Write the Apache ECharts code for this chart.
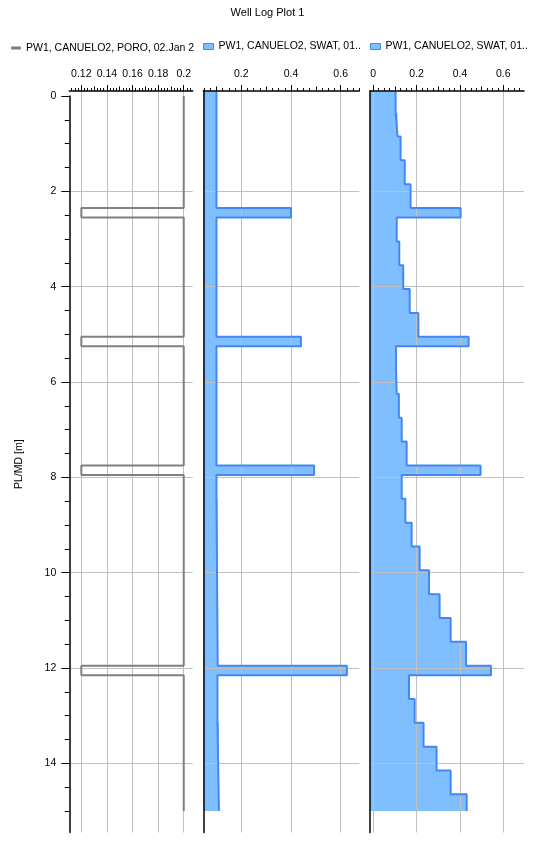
<!DOCTYPE html>
<html><head><meta charset="utf-8">
<script src="https://cdn.jsdelivr.net/npm/echarts@6/dist/echarts.min.js"></script>
<style>html,body{margin:0;padding:0;background:#fff}#c{width:535px;height:844px}</style>
</head><body><div id="c"></div>
<script>
// ---------- data (depth in m) ----------
const poroName = 'PW1, CANUELO2, PORO, 02.Jan 20';
const swatName = 'PW1, CANUELO2, SWAT, 01..';

const poroDepths = [0, 2.35, 2.55, 5.05, 5.25, 7.75, 7.95, 11.95, 12.15, 15.0];
const poroValues = [0.2, 0.12, 0.2, 0.12, 0.2, 0.12, 0.2, 0.12, 0.2];

const swat1Depths = [-0.1, 2.35, 2.55, 5.05, 5.25, 7.75, 7.95, 8.45, 11.95, 12.15, 13.15, 15.0];
const swat1Values = [0.1, 0.4, 0.1, 0.44, 0.1, 0.493, 0.1, 0.105, 0.625, 0.104, 0.11];

const swat2Depths = [-0.1, 0.35, 0.85, 1.35, 1.85, 2.35, 2.55, 3.05, 3.55, 4.05, 4.55, 5.05, 5.25, 5.75,
  6.25, 6.75, 7.25, 7.75, 7.95, 8.45, 8.95, 9.45, 9.95, 10.45, 10.95, 11.45, 11.95, 12.15, 12.65,
  13.15, 13.65, 14.15, 14.65, 15.0];
const swat2Values = [0.103, 0.112, 0.126, 0.145, 0.172, 0.403, 0.108, 0.12, 0.138, 0.168, 0.208, 0.44,
  0.105, 0.108, 0.118, 0.131, 0.154, 0.495, 0.131, 0.148, 0.177, 0.214, 0.257, 0.306, 0.357, 0.428,
  0.543, 0.165, 0.191, 0.232, 0.292, 0.357, 0.431];

// ---------- layout ----------
const FONT = 'Liberation Sans';
const Y0 = 96, PPD = 47.67, DTOP = -0.105, DBOT = 15.45;
const tracks = [
  {L: 69.3, R: 192.7, a: 0.1106, b: 0.2070, steps: [0.02, 0.01, 0.0025]},
  {L: 203.3, R: 359.3, a: 0.047, b: 0.675, steps: [0.2, 0.1, 0.025]},
  {L: 370, R: 524, a: -0.0152, b: 0.6955, steps: [0.2, 0.1, 0.025]}
];
const tickLens = [6, 4.5, 3];
const yPx = d => Y0 + d * PPD;
const xPx = (t, v) => t.L + (v - t.a) / (t.b - t.a) * (t.R - t.L);
const rnd = v => Math.round(v * 1e7) / 1e7 + 0;

const grids = [], xAxes = [], yAxes = [];
function addGrid(l, r, t, b) {
  grids.push({left: l, top: t, width: r - l, height: b - t, containLabel: false, outerBoundsMode: 'none'});
  return grids.length - 1;
}
function hiddenAxis(g, min, max, inverse) {
  return {type: 'value', gridIndex: g, show: false, min: min, max: max, inverse: !!inverse};
}
const dataAxis = [];
tracks.forEach((t, ti) => {
  // data grid
  let g = addGrid(t.L, t.R, yPx(DTOP), yPx(DBOT));
  xAxes.push({type: 'value', gridIndex: g, position: 'top', min: t.a, max: t.b, z: 5,
    axisLine: {show: true, onZero: false, lineStyle: {color: '#000', width: 1.5}},
    axisTick: {show: false}, axisLabel: {show: false}, splitLine: {show: false}});
  yAxes.push({type: 'value', gridIndex: g, inverse: true, min: DTOP, max: DBOT, z: 5,
    axisLine: {show: ti > 0, onZero: false, lineStyle: {color: '#000', width: 1.5}},
    axisTick: {show: false}, axisLabel: {show: false}, splitLine: {show: false}});
  dataAxis.push({x: xAxes.length - 1, y: yAxes.length - 1});

  // x tick levels
  t.steps.forEach((s, li) => {
    const lo = rnd(Math.ceil(t.a / s - 1e-6) * s);
    const hi = rnd(Math.floor(t.b / s + 1e-6) * s);
    const gg = addGrid(xPx(t, lo), xPx(t, hi), yPx(DTOP), yPx(DBOT));
    xAxes.push({type: 'value', gridIndex: gg, position: 'top', min: lo, max: hi, interval: s, z: 2,
      axisLine: {show: false, onZero: false},
      axisTick: {show: true, length: tickLens[li], lineStyle: {color: '#000', width: 1}},
      axisLabel: {show: li === 0, margin: 11, fontSize: 10.5, color: '#000', fontFamily: FONT,
        showMinLabel: true, showMaxLabel: true},
      splitLine: {show: li === 0, lineStyle: {color: '#c0c0c0', width: 1}}});
    yAxes.push(hiddenAxis(gg, DTOP, DBOT, true));
  });

  // horizontal grid lines (and depth labels for first track)
  g = addGrid(t.L, t.R, yPx(0), yPx(14));
  xAxes.push(hiddenAxis(g, t.a, t.b));
  yAxes.push({type: 'value', gridIndex: g, inverse: true, min: 0, max: 14, interval: 2, z: 2,
    axisLine: {show: false, onZero: false},
    axisTick: {show: ti === 0, length: 8, lineStyle: {color: '#000'}},
    axisLabel: {show: ti === 0, margin: 13, fontSize: 10.5, color: '#000', fontFamily: FONT,
      showMinLabel: true, showMaxLabel: true},
    splitLine: {show: true, showMinLine: false, lineStyle: {color: '#c0c0c0', width: 1}}});

  if (ti === 0) {
    // minor depth ticks
    g = addGrid(t.L, t.R, yPx(0), yPx(15));
    xAxes.push(hiddenAxis(g, t.a, t.b));
    yAxes.push({type: 'value', gridIndex: g, inverse: true, min: 0, max: 15, interval: 0.5, z: 2,
      axisLine: {show: false, onZero: false},
      axisTick: {show: true, length: 4.5, lineStyle: {color: '#000'}},
      axisLabel: {show: false}, splitLine: {show: false}});
    // main depth axis line + name
    g = addGrid(t.L, t.R, yPx(0), yPx(DBOT));
    xAxes.push(hiddenAxis(g, t.a, t.b));
    yAxes.push({type: 'value', gridIndex: g, inverse: true, min: 0, max: DBOT, z: 5,
      name: 'PL/MD [m]', nameLocation: 'middle', nameGap: 45,
      nameTextStyle: {fontSize: 10.5, color: '#000', fontFamily: FONT},
      axisLine: {show: true, onZero: false, lineStyle: {color: '#000', width: 1.5}},
      axisTick: {show: false}, axisLabel: {show: false}, splitLine: {show: false}});
  }
});

function stepPoints(depths, values) {
  const pts = [];
  values.forEach((v, i) => { pts.push([v, depths[i]]); pts.push([v, depths[i + 1]]); });
  return pts;
}
function lineSeries(ti, name, depths, values, color, width) {
  return {type: 'line', name: name, xAxisIndex: dataAxis[ti].x, yAxisIndex: dataAxis[ti].y,
    data: stepPoints(depths, values), showSymbol: false, symbol: 'none', z: 4, silent: true,
    lineStyle: {color: color, width: width}, itemStyle: {color: color}, animation: false};
}
function fillSeries(ti, name, depths, values) {
  const t = tracks[ti];
  const pts = stepPoints(depths, values);
  return {type: 'custom', name: name, xAxisIndex: dataAxis[ti].x, yAxisIndex: dataAxis[ti].y,
    data: pts, z: 1, silent: true, animation: false, encode: {x: 0, y: 1},
    itemStyle: {color: '#80bfff'},
    renderItem: function (params, api) {
      if (params.dataIndex !== 0) return null;
      const poly = [api.coord([t.a, depths[0]])];
      pts.forEach(p => poly.push(api.coord(p)));
      poly.push(api.coord([t.a, depths[depths.length - 1]]));
      return {type: 'polygon', shape: {points: poly}, style: {fill: '#80bfff'}};
    }};
}

const legendText = {fontSize: 10.5, color: '#000', fontFamily: FONT};
const option = {
  animation: false,
  textStyle: {fontFamily: FONT},
  title: {text: 'Well Log Plot 1', left: 'center', top: 2,
    textStyle: {fontSize: 11, fontWeight: 'normal', color: '#000', fontFamily: FONT}},
  legend: [
    {left: 11, top: 42.5, padding: 0, selectedMode: false, itemWidth: 10, itemHeight: 3,
      data: [{name: poroName, icon: 'rect', itemStyle: {color: '#808080', borderWidth: 0}}],
      textStyle: Object.assign({width: 174, overflow: 'truncate', ellipsis: ''}, legendText)},
    {left: 203, top: 41, padding: 0, selectedMode: false, itemWidth: 10, itemHeight: 6,
      data: [{name: swatName, icon: 'rect', itemStyle: {color: '#80bfff', borderColor: '#4287f5', borderWidth: 1}}],
      textStyle: legendText},
    {left: 370, top: 41, padding: 0, selectedMode: false, itemWidth: 10, itemHeight: 6,
      data: [{name: swatName, icon: 'rect', itemStyle: {color: '#80bfff', borderColor: '#4287f5', borderWidth: 1}}],
      textStyle: legendText}
  ],
  grid: grids,
  xAxis: xAxes,
  yAxis: yAxes,
  series: [
    lineSeries(0, poroName, poroDepths, poroValues, '#808080', 2),
    fillSeries(1, swatName, swat1Depths, swat1Values),
    lineSeries(1, swatName, swat1Depths, swat1Values, '#4287f5', 2),
    fillSeries(2, swatName, swat2Depths, swat2Values),
    lineSeries(2, swatName, swat2Depths, swat2Values, '#4287f5', 2)
  ]
};
const chart = echarts.init(document.getElementById('c'), null, {renderer: 'canvas'});
chart.setOption(option);
</script>
</body></html>
